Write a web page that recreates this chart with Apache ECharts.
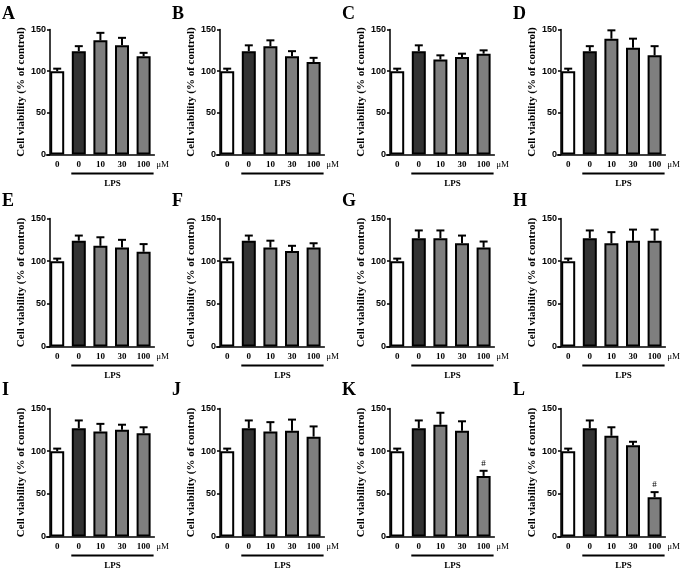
<!DOCTYPE html>
<html><head><meta charset="utf-8">
<script src="https://cdn.jsdelivr.net/npm/echarts@6/dist/echarts.min.js"></script>
<style>html,body{margin:0;padding:0;background:#fff}#c{width:685px;height:570px}</style>
</head><body><div id="c"></div>
<script>
// ---------- data ----------
const categories = ['0', '0', '10', '30', '100'];
const yTicks = [0, 50, 100, 150];
const panelLetters = ['A','B','C','D','E','F','G','H','I','J','K','L'];
const yTitle = 'Cell viability (% of control)';
const unitLabel = 'μM';
const groupLabel = 'LPS';

const meanA = [100, 124, 137, 131, 118]; const errA = [3, 6, 9, 9, 4];
const meanB = [100, 124, 130, 118, 111]; const errB = [3, 7, 7, 6, 5];
const meanC = [100, 124, 114, 117, 121]; const errC = [3, 7, 5, 4, 4];
const meanD = [100, 124, 139, 128, 119]; const errD = [3, 6, 10, 11, 11];
const meanE = [100, 124, 118, 116, 111]; const errE = [3, 6, 10, 9, 9];
const meanF = [100, 124, 116, 112, 116]; const errF = [3, 6, 8, 6, 5];
const meanG = [100, 127, 127, 121, 116]; const errG = [3, 9, 9, 9, 7];
const meanH = [100, 127, 121, 124, 124]; const errH = [3, 9, 13, 13, 13];
const meanI = [100, 127, 123, 125, 121]; const errI = [3, 9, 9, 6, 7];
const meanJ = [100, 127, 123, 124, 117]; const errJ = [3, 9, 11, 13, 12];
const meanK = [100, 127, 131, 124, 71];  const errK = [3, 9, 14, 11, 6];
const meanL = [100, 127, 118, 107, 46];  const errL = [3, 9, 10, 4, 6];
const noMarks = ['', '', '', '', ''];
const marksK = ['', '', '', '', '#'];
const marksL = ['', '', '', '', '#'];

const means = [meanA, meanB, meanC, meanD, meanE, meanF, meanG, meanH, meanI, meanJ, meanK, meanL];
const errs  = [errA, errB, errC, errD, errE, errF, errG, errH, errI, errJ, errK, errL];
const marks = [noMarks, noMarks, noMarks, noMarks, noMarks, noMarks, noMarks, noMarks, noMarks, noMarks, marksK, marksL];

// ---------- layout / style ----------
const colX = [50, 220, 390, 561];
const rowTop = [29.5, 218.5, 408.5];
const rowBottom = [154.5, 346.5, 536.5];
const letterY = [14, 201, 390];
const catW = 21.6, barW = 14, firstCenter = 7.2;
const barColors = ['#ffffff', '#333333', '#7f7f7f', '#7f7f7f', '#7f7f7f'];
const serif = '"Liberation Serif", "Times New Roman", serif';
const sans = '"Liberation Sans", Arial, sans-serif';

const chart = echarts.init(document.getElementById('c'), null, {renderer: 'canvas'});

const grids = [], xAxes = [], yAxes = [], series = [];
for (let p = 0; p < 12; p++) {
  const r = Math.floor(p / 4), c = p % 4;
  const X0 = colX[c];
  grids.push({
    left: X0 + firstCenter - catW / 2,
    width: catW * categories.length,
    top: rowTop[r],
    height: rowBottom[r] - rowTop[r],
    containLabel: false
  });
  xAxes.push({
    type: 'category', gridIndex: p, data: categories,
    axisLine: {show: true, lineStyle: {color: '#000', width: 1.5}},
    axisTick: {show: false},
    axisLabel: {color: '#000', fontFamily: serif, fontWeight: 'bold', fontSize: 9, margin: 6, interval: 0}
  });
  yAxes.push({
    type: 'value', gridIndex: p, min: yTicks[0], max: yTicks[yTicks.length - 1], interval: 50,
    offset: -(catW / 2 - firstCenter),
    name: yTitle, nameLocation: 'middle', nameGap: 22,
    nameTextStyle: {color: '#000', fontFamily: serif, fontWeight: 'bold', fontSize: 11},
    axisLine: {show: true, lineStyle: {color: '#000', width: 1.5}},
    axisTick: {show: true, length: 3, lineStyle: {color: '#000', width: 1.5}},
    axisLabel: {color: '#000', fontFamily: sans, fontWeight: 'bold', fontSize: 9, margin: 4},
    splitLine: {show: false}
  });
  const m = means[p];
  series.push({
    type: 'bar', xAxisIndex: p, yAxisIndex: p, barWidth: barW,
    data: m.map((v, i) => ({value: v, itemStyle: {color: barColors[i]}})),
    itemStyle: {borderColor: '#000', borderWidth: 2},
    animation: false, silent: true
  });
  const e = errs[p], mk = marks[p];
  series.push({
    type: 'custom', xAxisIndex: p, yAxisIndex: p,
    data: m.map((v, i) => [i, v, e[i]]),
    encode: {x: 0, y: 1},
    z: 5, animation: false, silent: true,
    renderItem: function (params, api) {
      const i = api.value(0), v = api.value(1), er = api.value(2);
      const base = api.coord([i, v]);
      const top = api.coord([i, v + er]);
      const x = base[0];
      const children = [
        {type: 'line', shape: {x1: x, y1: base[1], x2: x, y2: top[1]}, style: {stroke: '#000', lineWidth: 2}},
        {type: 'line', shape: {x1: x - 4, y1: top[1], x2: x + 4, y2: top[1]}, style: {stroke: '#000', lineWidth: 2}}
      ];
      const t = mk[params.dataIndex];
      if (t) {
        children.push({type: 'text', style: {text: t, x: x, y: top[1] - 3, align: 'center', verticalAlign: 'bottom',
          font: '9px ' + serif, fill: '#000'}});
      }
      return {type: 'group', children: children};
    }
  });
}

chart.setOption({
  animation: false,
  backgroundColor: '#fff',
  grid: grids, xAxis: xAxes, yAxis: yAxes, series: series
});

// annotations: panel letters, LPS bracket and label, unit label
const graphics = [];
for (let p = 0; p < 12; p++) {
  const r = Math.floor(p / 4), c = p % 4;
  const X0 = colX[c];
  graphics.push({type: 'text', left: X0 - 48, top: letterY[r] - 9, silent: true,
    style: {text: panelLetters[p], font: 'bold 18px ' + serif, fill: '#000'}});
  const p1 = chart.convertToPixel({gridIndex: p}, [1, 0]);
  const p4 = chart.convertToPixel({gridIndex: p}, [4, 0]);
  const y0 = p1[1];
  const xs = p1[0] - barW / 2 - 0.5, xe = p4[0] + 10;
  graphics.push({type: 'line', silent: true, shape: {x1: xs, y1: y0 + 19, x2: xe, y2: y0 + 19},
    style: {stroke: '#000', lineWidth: 2}});
  graphics.push({type: 'text', silent: true, x: (xs + xe) / 2, y: y0 + 29,
    style: {text: groupLabel, font: 'bold 9px ' + serif, fill: '#000', align: 'center', verticalAlign: 'middle'}});
  graphics.push({type: 'text', silent: true, x: p4[0] + 19, y: y0 + 10.5,
    style: {text: unitLabel, font: '9px ' + serif, fill: '#000', align: 'center', verticalAlign: 'middle'}});
}
chart.setOption({graphic: graphics});
</script>
</body></html>
